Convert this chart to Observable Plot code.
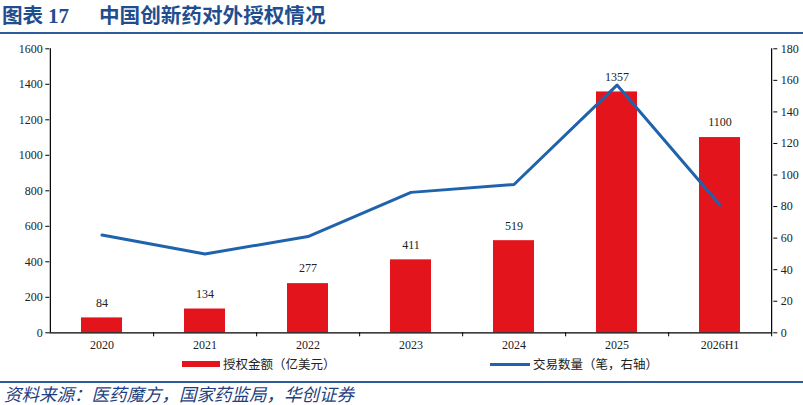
<!DOCTYPE html>
<html>
<head>
<meta charset="utf-8">
<script src="https://cdn.jsdelivr.net/npm/d3@7"></script>
<script src="https://cdn.jsdelivr.net/npm/@observablehq/plot@0.6"></script>
<style>
  html, body { margin: 0; padding: 0; background: #fff; }
  body { width: 803px; height: 405px; position: relative; overflow: hidden; font-family: "Noto Sans CJK SC", sans-serif; }
  .abs { position: absolute; }
  #t1, #t2 { top: 1px; font-size: 20.6px; font-weight: bold; color: #1F4E8F; line-height: 26px; font-family: "Noto Sans CJK SC", sans-serif; white-space: nowrap; }
  #t1 { left: 2px; }
  #t2 { left: 99px; }
  #t1 .num { font-family: "Liberation Serif", serif; font-size: 21px; }
  .rule { left: 0; width: 803px; height: 2px; background: #2E5B9A; }
  #chart { top: 38px; left: 0; }
  .leg { font-size: 12.5px; color: #222; line-height: 16px; top: 356px; white-space: nowrap; }
  #src { left: 4px; top: 385px; font-size: 17.5px; font-style: italic; color: #1F3F7F; line-height: 18px; white-space: nowrap; letter-spacing: 0px; }
</style>
</head>
<body>
<div id="t1" class="abs">图表 <span class="num">17</span></div>
<div id="t2" class="abs">中国创新药对外授权情况</div>
<div class="abs rule" style="top:32px"></div>
<div id="chart" class="abs"></div>
<div class="abs" style="left:182px;top:361px;width:38px;height:6px;background:#E3141C"></div>
<div class="abs leg" style="left:223px">授权金额（亿美元）</div>
<div class="abs" style="left:490px;top:362.5px;width:40px;height:3px;background:#1F63AC"></div>
<div class="abs leg" style="left:533px">交易数量（笔，右轴）</div>
<div class="abs rule" style="top:381px"></div>
<div id="src" class="abs">资料来源：医药魔方，国家药监局，华创证券</div>
<script>
const categories = ["2020", "2021", "2022", "2023", "2024", "2025", "2026H1"];
const amounts = [84, 134, 277, 411, 519, 1357, 1100];
const deals = [62, 50, 61, 89, 94, 157, 81];
const leftTicks = [0, 200, 400, 600, 800, 1000, 1200, 1400, 1600];
const rightTicks = [0, 20, 40, 60, 80, 100, 120, 140, 160, 180];

const leftMax = 1600, rightMax = 180;
const toLeft = v => v * leftMax / rightMax;

const W = 803, H = 320;
const mL = 49.3, mR = 30.7, mT = 10.3, mB = 25.7;
const step = (W - mL - mR) / categories.length;

const rows = categories.map((c, i) => ({cat: c, amount: amounts[i], deals: deals[i]}));
const serif = "Liberation Serif, Times New Roman, serif";

const chart = Plot.plot({
  width: W, height: H,
  marginLeft: mL, marginRight: mR, marginTop: mT, marginBottom: mB,
  style: {fontFamily: serif, fontSize: "12px", color: "#222", background: "transparent"},
  x: {type: "band", domain: categories, paddingInner: 0.6, paddingOuter: 0.3, axis: null, label: null},
  y: {domain: [0, leftMax], axis: null, label: null},
  marks: [
    Plot.barY(rows, {x: "cat", y: "amount", fill: "#E3141C"}),
    Plot.text(rows, {x: "cat", y: "amount", text: d => String(d.amount), dy: -15, fontSize: 12, fill: "#222"}),
    Plot.line(rows, {x: "cat", y: d => toLeft(d.deals), stroke: "#1F63AC", strokeWidth: 3}),
    // axis lines
    Plot.ruleY([0], {stroke: "#000", strokeWidth: 1.2}),
    Plot.ruleX([categories[0]], {y1: 0, y2: leftMax, dx: -step / 2, stroke: "#000", strokeWidth: 1.2}),
    Plot.ruleX([categories[categories.length - 1]], {y1: 0, y2: leftMax, dx: step / 2, stroke: "#000", strokeWidth: 1.2}),
    // x axis labels and boundary ticks
    Plot.axisX({tickSize: 0, tickPadding: 8, fontSize: 12, fill: "#222", label: null}),
    Plot.axisX({tickSize: 4, tickFormat: () => "", dx: step / 2, stroke: "#000", label: null}),
    // left axis
    Plot.axisY(leftTicks, {anchor: "left", tickSize: 4, tickPadding: 3, fontSize: 12, fill: "#222", stroke: "#000",
      tickFormat: d => String(d), label: null}),
    // right axis
    Plot.axisY(rightTicks.map(toLeft), {anchor: "right", tickSize: 4, tickPadding: 4, fontSize: 12, fill: "#222", stroke: "#000",
      tickFormat: d => String(Math.round(d * rightMax / leftMax)), label: null})
  ]
});
document.getElementById("chart").appendChild(chart);
</script>
</body>
</html>
